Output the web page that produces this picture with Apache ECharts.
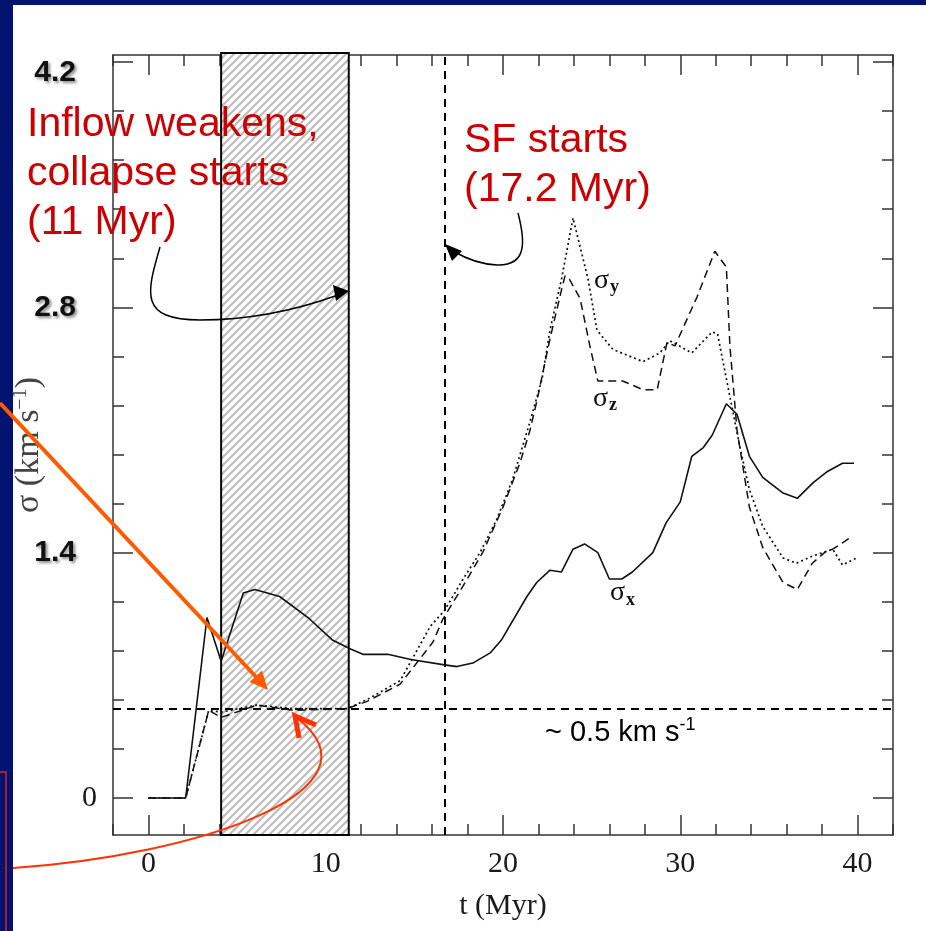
<!DOCTYPE html>
<html lang="en">
<head>
<meta charset="UTF-8">
<title>sigma vs t</title>
<script src="https://cdn.jsdelivr.net/npm/echarts@6/dist/echarts.min.js"></script>
<style>
  html, body { margin: 0; padding: 0; background: #00136f; overflow: hidden; }
  #panel { position: absolute; left: 13px; top: 5px; width: 913px; height: 926px; background: #fff; }
  #main { position: absolute; left: 0; top: 0; width: 926px; height: 931px; }
</style>
</head>
<body>
<div id="panel"></div>
<div id="main"></div>
<script>
// sigma_x (solid)
var tX   = [0, 2.1, 3.3, 4.1, 5.35, 6.0, 7.4, 9.0, 10.4, 11.4, 12.1, 13.5, 14.8, 16.7, 17.4, 18.3, 19.3, 19.9, 21.35, 21.9,
            22.65, 23.3, 23.95, 24.6, 25.35, 26.0, 26.7, 27.3, 28.45, 29.2, 30.0, 30.65, 31.3, 31.8, 32.6, 33.2, 33.9, 34.65, 35.8, 36.6,
            37.5, 38.25, 39.15, 39.8];
var sigX = [0, 0, 1.03, 0.78, 1.17, 1.19, 1.15, 1.03, 0.90, 0.85, 0.82, 0.82, 0.79, 0.76, 0.75, 0.77, 0.83, 0.90, 1.15, 1.23,
            1.30, 1.29, 1.42, 1.45, 1.40, 1.25, 1.25, 1.29, 1.40, 1.57, 1.69, 1.95, 2.00, 2.07, 2.25, 2.19, 1.95, 1.83, 1.74, 1.71,
            1.80, 1.86, 1.91, 1.91];
// sigma_y (dotted)
var tY   = [0, 2.1, 3.4, 4.1, 6.1, 8.2, 11.2, 12.3, 14.2, 15.9, 16.7, 17.75, 18.7, 19.65, 20.55, 21.5, 22.2, 22.65, 23.3, 23.95,
            24.8, 25.3, 26.2, 27.9, 28.85, 29.4, 30.65, 31.8, 32.1, 32.8, 33.35, 33.9, 34.65, 35.8, 36.55, 37.45, 38.6, 39.15, 39.95];
var sigY = [0, 0, 0.50, 0.49, 0.53, 0.51, 0.51, 0.56, 0.67, 0.98, 1.07, 1.25, 1.40, 1.59, 1.82, 2.14, 2.39, 2.67, 2.96, 3.31,
            2.96, 2.67, 2.56, 2.49, 2.54, 2.61, 2.54, 2.66, 2.65, 2.29, 2.01, 1.76, 1.55, 1.37, 1.34, 1.38, 1.42, 1.33, 1.37];
// sigma_z (dashed)
var tZ   = [0, 2.1, 3.4, 4.1, 6.1, 8.2, 11.2, 12.3, 14.2, 16.05, 16.6, 17.75, 18.85, 20.0, 20.95, 21.5, 21.9, 22.65, 23.3, 23.5,
            23.75, 24.35, 24.9, 25.35, 26.75, 27.9, 28.7, 29.25, 29.7, 30.95, 31.95, 32.6, 32.8, 33.2, 33.9, 34.65, 35.45, 35.8, 36.6, 37.45,
            38.25, 38.6, 39.65];
var sigZ = [0, 0, 0.50, 0.46, 0.53, 0.50, 0.51, 0.55, 0.65, 0.89, 1.02, 1.21, 1.40, 1.66, 1.91, 2.09, 2.26, 2.62, 2.90, 2.98,
            2.96, 2.85, 2.58, 2.38, 2.38, 2.33, 2.33, 2.60, 2.58, 2.86, 3.12, 3.03, 2.58, 2.10, 1.66, 1.43, 1.29, 1.23, 1.19, 1.34,
            1.41, 1.42, 1.49];

var xMajor = [0, 10, 20, 30, 40];
var yMinor = [0, 0.28, 0.56, 0.84, 1.12, 1.4, 1.68, 1.96, 2.24, 2.52, 2.8, 3.08, 3.36, 3.64, 3.92, 4.2];
var yMajor = [0, 1.4, 2.8, 4.2];
var collapseBand = [4.1, 11.3];   // hatched interval (Myr)
var sfStart = 16.7;               // vertical dashed line
var floorLevel = 0.51;            // ~0.5 km/s line

var yMin = -0.211, yMax = 4.24;

function pairs(t, v) { return t.map(function (x, i) { return [x, v[i]]; }); }

// hatch pattern
var pat = document.createElement('canvas');
pat.width = 8; pat.height = 8;
var pc = pat.getContext('2d');
pc.fillStyle = '#fff'; pc.fillRect(0, 0, 8, 8);
pc.strokeStyle = '#bcbcbc'; pc.lineWidth = 2.2;
pc.beginPath();
pc.moveTo(-1, 9); pc.lineTo(9, -1);
pc.moveTo(-2, 2); pc.lineTo(2, -2);
pc.moveTo(6, 10); pc.lineTo(10, 6);
pc.stroke();

var axCol = '#333';
var serif = '"Liberation Serif", "DejaVu Serif", serif';

function xAx(pos, major, withLabels) {
  var a = {
    type: 'value', position: pos, offset: 0, min: -2, max: 42, interval: 2,
    axisLine: { show: !major, onZero: false, lineStyle: { color: axCol, width: 1.5 } },
    axisTick: { inside: true, length: major ? 20 : 11, lineStyle: { color: axCol, width: 1.5 } },
    axisLabel: { show: false },
    splitLine: { show: false }
  };
  if (major) a.axisTick.customValues = xMajor;
  if (withLabels) {
    a.axisLabel = {
      show: true, customValues: xMajor, margin: 14,
      color: '#1a1a1a', fontFamily: serif, fontSize: 30
    };
    a.name = 't (Myr)';
    a.nameLocation = 'middle';
    a.nameGap = 56;
    a.nameMoveOverlap = false;
    a.nameTextStyle = { color: '#1a1a1a', fontFamily: serif, fontSize: 30 };
  }
  return a;
}

function yAx(pos, major, withLabels) {
  var a = {
    type: 'value', position: pos, offset: 0, min: yMin, max: yMax,
    axisLine: { show: !major, onZero: false, lineStyle: { color: axCol, width: 1.5 } },
    axisTick: { inside: true, length: major ? 20 : 11, customValues: major ? yMajor : yMinor,
                lineStyle: { color: axCol, width: 1.5 } },
    axisLabel: { show: false },
    splitLine: { show: false }
  };
  if (withLabels) {
    var shadow = { textShadowColor: 'rgba(0,0,0,0.45)', textShadowBlur: 3, textShadowOffsetX: 2, textShadowOffsetY: 2 };
    a.axisLabel = {
      show: true, customValues: yMajor, margin: 16,
      formatter: function (v) {
        if (v === 0) return '{z|0}';
        if (v > 4) return '{c|' + v.toFixed(1) + '}';
        return '{b|' + v.toFixed(1) + '}';
      },
      rich: {
        z: { color: '#1a1a1a', fontFamily: serif, fontSize: 30 },
        b: Object.assign({ color: '#111', fontFamily: '"Liberation Sans", Arial, sans-serif', fontWeight: 'bold',
                           fontSize: 30, padding: [0, 21, 0, 0] }, shadow),
        c: Object.assign({ color: '#111', fontFamily: '"Liberation Sans", Arial, sans-serif', fontWeight: 'bold',
                           fontSize: 30, padding: [22, 21, 0, 0] }, shadow)
      }
    };
    a.name = '{n|σ (km s}{s|−1}{n|)}';
    a.nameLocation = 'middle';
    a.nameGap = 66;
    a.nameMoveOverlap = false;
    a.nameRotate = 90;
    a.nameTextStyle = {
      color: '#444', fontFamily: serif, fontSize: 34,
      rich: {
        n: { color: '#444', fontFamily: serif, fontSize: 34 },
        s: { color: '#444', fontFamily: serif, fontSize: 20, padding: [0, 0, 16, 0] }
      }
    };
  }
  return a;
}

var lineCol = '#111';
var graphics = [
  // left red box, mostly off-slide
  { type: 'rect', shape: { x: -20, y: 772, width: 26, height: 200 }, style: { fill: 'none', stroke: '#e0201a', lineWidth: 1.5 } },
  // curved red arrow to the ~0.5 floor
  { type: 'bezierCurve', shape: { x1: 13, y1: 868, cpx1: 200, cpy1: 855, cpx2: 390, cpy2: 790, x2: 297, y2: 718 },
    style: { stroke: '#ff3300', lineWidth: 2, fill: 'none' } },
  { type: 'polyline', shape: { points: [[299, 738], [295, 716], [316, 725]] },
    style: { stroke: '#ff3300', lineWidth: 5, fill: 'none' } },
  // straight orange arrow
  { type: 'line', shape: { x1: 0, y1: 403, x2: 258, y2: 679 }, style: { stroke: '#ff5a00', lineWidth: 4 } },
  { type: 'polygon', shape: { points: [[268, 690], [249.5, 682], [262, 670.5]] }, style: { fill: '#ff5a00' } },
  // black arrows
  { type: 'bezierCurve', shape: { x1: 160, y1: 247, cpx1: 147, cpy1: 292, cpx2: 138, cpy2: 320, x2: 200, y2: 320 },
    style: { stroke: '#000', lineWidth: 1.5, fill: 'none' } },
  { type: 'bezierCurve', shape: { x1: 200, y1: 320, cpx1: 260, cpy1: 320, cpx2: 305, cpy2: 307, x2: 338, y2: 295 },
    style: { stroke: '#000', lineWidth: 1.5, fill: 'none' } },
  { type: 'polygon', shape: { points: [[349, 291], [333, 285], [336, 301]] }, style: { fill: '#000' } },
  { type: 'bezierCurve', shape: { x1: 518, y1: 213, cpx1: 525, cpy1: 240, cpx2: 528, cpy2: 266, x2: 497, y2: 265 },
    style: { stroke: '#000', lineWidth: 1.5, fill: 'none' } },
  { type: 'bezierCurve', shape: { x1: 497, y1: 265, cpx1: 478, cpy1: 264, cpx2: 465, cpy2: 258, x2: 455, y2: 252 },
    style: { stroke: '#000', lineWidth: 1.5, fill: 'none' } },
  { type: 'polygon', shape: { points: [[445, 244], [452, 261], [462, 251]] }, style: { fill: '#000' } },
  // red annotations
  { type: 'text', x: 27, y: 100, style: { text: 'Inflow weakens,\ncollapse starts\n(11 Myr)', fill: '#cc0000',
    font: '41px "Liberation Sans", Arial, sans-serif', lineHeight: 49 } },
  { type: 'text', x: 464, y: 116, style: { text: 'SF starts\n(17.2 Myr)', fill: '#cc0000',
    font: '41px "Liberation Sans", Arial, sans-serif', lineHeight: 49 } },
  // floor label
  { type: 'text', x: 545, y: 716, style: { text: '{a|~ 0.5 km s}{b|-1}', rich: {
      a: { fill: '#000', font: '29px "Liberation Sans", Arial, sans-serif' },
      b: { fill: '#000', font: '18px "Liberation Sans", Arial, sans-serif', padding: [0, 0, 15, 0] } } } },
  // curve labels
  { type: 'text', x: 594, y: 265, style: { text: '{s|σ}{i|y}', rich: {
      s: { fill: '#111', font: '28px ' + serif }, i: { fill: '#111', font: 'bold 18px ' + serif, padding: [13, 0, 0, 1] } } } },
  { type: 'text', x: 593, y: 383, style: { text: '{s|σ}{i|z}', rich: {
      s: { fill: '#111', font: '28px ' + serif }, i: { fill: '#111', font: 'bold 18px ' + serif, padding: [13, 0, 0, 1] } } } },
  { type: 'text', x: 610, y: 576, style: { text: '{s|σ}{i|x}', rich: {
      s: { fill: '#111', font: '28px ' + serif }, i: { fill: '#111', font: 'bold 18px ' + serif, padding: [15, 0, 0, 1] } } } }
];
graphics.forEach(function (g) { g.z = 100; g.silent = true; });

var option = {
  backgroundColor: 'transparent',
  animation: false,
  grid: { left: 113, right: 33, top: 55, bottom: 96, containLabel: false, outerBoundsMode: 'none' },
  xAxis: [xAx('bottom', false, false), xAx('bottom', true, true), xAx('top', false, false), xAx('top', true, false)],
  yAxis: [yAx('left', false, false), yAx('left', true, true), yAx('right', false, false), yAx('right', true, false)],
  series: [
    {
      type: 'custom', z: 1, silent: true,
      data: [collapseBand],
      encode: { x: [0, 1] },
      renderItem: function (params, api) {
        var p0 = api.coord([api.value(0), yMax]);
        var p1 = api.coord([api.value(1), yMin]);
        return {
          type: 'rect',
          shape: { x: p0[0], y: p0[1] - 2, width: p1[0] - p0[0], height: p1[1] - p0[1] + 2 },
          style: { fill: { image: pat, repeat: 'repeat' }, stroke: '#000', lineWidth: 2 }
        };
      }
    },
    {
      name: 'sigma_x', type: 'line', data: pairs(tX, sigX), showSymbol: false, z: 5,
      lineStyle: { color: lineCol, width: 1.6 }
    },
    {
      name: 'sigma_y', type: 'line', data: pairs(tY, sigY), showSymbol: false, z: 5,
      lineStyle: { color: lineCol, width: 1.7, type: [2, 3] }
    },
    {
      name: 'sigma_z', type: 'line', data: pairs(tZ, sigZ), showSymbol: false, z: 5,
      lineStyle: { color: lineCol, width: 1.5, type: [8, 5] }
    },
    {
      type: 'line', data: [], z: 6, silent: true,
      markLine: {
        silent: true, symbol: 'none', label: { show: false },
        lineStyle: { color: '#000', width: 2, type: [8, 6] },
        data: [{ xAxis: sfStart }, { yAxis: floorLevel }]
      }
    }
  ],
  graphic: graphics
};

var myChart = echarts.init(document.getElementById('main'));
myChart.setOption(option);
</script>
</body>
</html>
